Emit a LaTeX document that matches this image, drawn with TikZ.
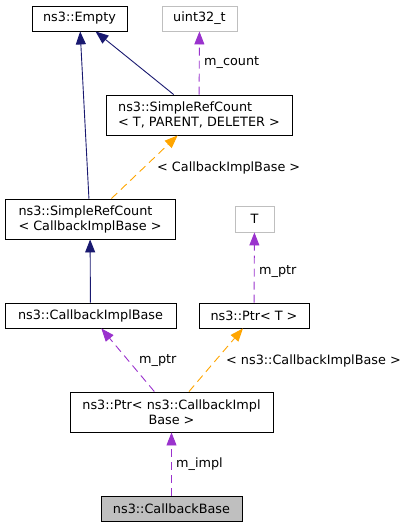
\documentclass[tikz,border=0pt]{standalone}
\usepackage{fontspec}
\setmainfont{DejaVu Sans}
\usetikzlibrary{arrows.meta}

\definecolor{edgenavy}{HTML}{191970}
\definecolor{edgepurple}{HTML}{9A32CD}
\definecolor{edgeorange}{HTML}{FFA500}
\definecolor{boxgray}{HTML}{BFBFBF}

\begin{document}
\begin{tikzpicture}[x=1pt,y=-1pt,
  classnode/.style={draw=black,line width=0.9pt,inner sep=0pt,font=\fontsize{12.8}{15}\selectfont},
  ghostnode/.style={classnode,draw=boxgray},
  edgelabel/.style={anchor=west,inner sep=0pt,font=\fontsize{12.8}{15}\selectfont},
  inherit/.style={draw=edgenavy,line width=0.9pt,-{Triangle[length=13pt,width=10pt]}},
  member/.style={draw=edgepurple,line width=0.9pt,dash pattern=on 8pt off 5pt,-{Triangle[length=13pt,width=10pt]}},
  templ/.style={draw=edgeorange,line width=0.9pt,dash pattern=on 8pt off 5pt,-{Triangle[length=13pt,width=10pt]}}]

\useasboundingbox (0,0) rectangle (409,528);

% Set heights of one and two line boxes
\def\hone{25}
\def\htwo{40}

% Top row
\node[classnode,minimum width=95,minimum height=\hone] (Empty) at (79.5,18.5) {ns3::Empty};
\node[ghostnode,minimum width=75,minimum height=\hone] (Uint) at (199.5,18.5) {uint32\_t};

% SimpleRefCount
\node[classnode,align=left,minimum width=186,minimum height=\htwo] (RefCountT) at (199,115) {ns3::SimpleRefCount\\< T, PARENT, DELETER >};
\node[classnode,align=left,minimum width=170,minimum height=\htwo] (RefCountImpl) at (90,219) {ns3::SimpleRefCount\\< CallbackImplBase >};
\node[ghostnode,minimum width=39,minimum height=26] (TParam) at (254.5,219) {T};

% Impl and Ptr
\node[classnode,minimum width=171,minimum height=\hone] (ImplBase) at (90.5,315.5) {ns3::CallbackImplBase};
\node[classnode,minimum width=110,minimum height=\hone] (PtrT) at (254,315.5) {ns3::Ptr< T >};
\node[classnode,align=center,minimum width=203,minimum height=\htwo] (PtrImpl) at (171.5,412) {ns3::Ptr< ns3::CallbackImpl\\Base >};

% CallbackBase
\node[classnode,fill=boxgray,minimum width=141,minimum height=\hone] (CbBase) at (171.5,508.5) {ns3::CallbackBase};

% Edges
\draw[inherit] (RefCountImpl) -- (Empty);
\draw[inherit] (RefCountT) -- (Empty);
\draw[member] (RefCountT) -- (Uint);
\draw[templ] (RefCountImpl) -- (RefCountT);
\draw[inherit] (ImplBase) -- (RefCountImpl);
\draw[member] (PtrT) -- (TParam);
\draw[member] (PtrImpl) -- (ImplBase);
\draw[templ] (PtrImpl) -- (PtrT);
\draw[member] (CbBase) -- (PtrImpl);

% Edge labels
\node[edgelabel] (LblCount) at (204,63) {m\_count};
\node[edgelabel] (LblRefArg) at (157,168) {< CallbackImplBase >};
\node[edgelabel] (LblPtrT) at (259,272) {m\_ptr};
\node[edgelabel] (LblPtrImpl) at (139,361) {m\_ptr};
\node[edgelabel] (LblPtrArg) at (226,361) {< ns3::CallbackImplBase >};
\node[edgelabel] (LblImpl) at (176,464) {m\_impl};

\end{tikzpicture}
\end{document}
